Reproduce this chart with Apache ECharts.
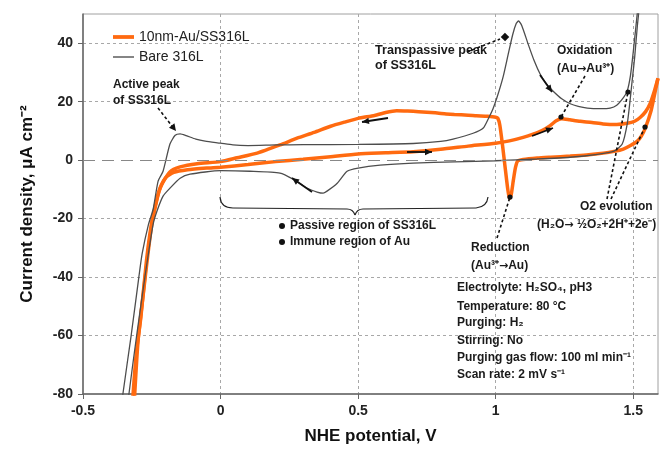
<!DOCTYPE html>
<html><head><meta charset="utf-8">
<script src="https://cdn.jsdelivr.net/npm/echarts@6/dist/echarts.min.js"></script>
<style>html,body{margin:0;padding:0;background:#fff}#c{width:661px;height:452px}</style>
</head><body><div id="c"></div>
<script>
// ---- data (NHE potential V, current density uA cm-2) ----
const seriesNames = ['10nm-Au/SS316L', 'Bare 316L'];
const auForward = [[-0.32,-85],[-0.318,-80],[-0.305,-65],[-0.29,-54],[-0.27,-35],[-0.255,-24],[-0.243,-18],[-0.225,-11],[-0.2,-6],[-0.17,-4.2],[-0.12,-3.3],[-0.05,-2.7],[0,-2.4],[0.1,-1.5],[0.2,-0.5],[0.3,0.3],[0.4,1.2],[0.5,2.1],[0.6,2.5],[0.7,2.9],[0.8,3.7],[0.9,4.8],[1.0,5.8],[1.05,6.6],[1.1,7.8],[1.136,8.9],[1.17,10.2],[1.198,11.8],[1.22,13.5],[1.24,14.2],[1.27,13.8],[1.307,13.3],[1.35,12.9],[1.39,12.4],[1.44,12.2],[1.478,12.6],[1.505,13.3],[1.525,14.6],[1.545,16.6],[1.562,19.5],[1.578,24],[1.59,28]];
const auReverse = [[1.59,28],[1.58,23.6],[1.565,17],[1.544,11],[1.53,8.3],[1.515,6.5],[1.49,5],[1.464,3.8],[1.43,3],[1.391,2.4],[1.33,1.8],[1.271,1.4],[1.2,1],[1.151,0.7],[1.1,0.2],[1.08,-0.3],[1.072,-2.5],[1.064,-7],[1.056,-12],[1.05,-13.2],[1.044,-10],[1.035,-3],[1.025,5],[1.015,12],[1.008,14.3],[1.0,14.7],[0.97,15],[0.93,15.2],[0.9,15.4],[0.85,15.6],[0.82,15.8],[0.78,16.2],[0.72,16.6],[0.68,16.8],[0.64,16.9],[0.6,16.3],[0.56,15.3],[0.5,14.3],[0.45,13],[0.4,11.6],[0.34,9.5],[0.278,7.5],[0.216,5.2],[0.133,2.4],[0.06,0.8],[0,-0.5],[-0.085,-1.2],[-0.147,-2.3],[-0.184,-4],[-0.22,-9.6],[-0.25,-22],[-0.28,-45],[-0.3,-62],[-0.312,-80],[-0.314,-85]];
const bareForward = [[-0.36,-85],[-0.355,-80],[-0.325,-60],[-0.297,-40],[-0.285,-32],[-0.262,-22],[-0.245,-16.8],[-0.227,-7.2],[-0.209,-3.8],[-0.184,5.5],[-0.165,8.5],[-0.147,9],[-0.125,8.4],[-0.09,7.2],[-0.056,6.5],[0,5.8],[0.045,5.2],[0.1,5.0],[0.2,5.2],[0.3,5.3],[0.5,5.4],[0.7,5.7],[0.8,6.4],[0.845,7.2],[0.918,9.2],[0.955,11],[0.975,14.5],[0.99,17.5],[1.005,21.5],[1.027,28.5],[1.045,36],[1.062,43],[1.075,46.8],[1.083,47.6],[1.095,46],[1.118,39.7],[1.14,34],[1.162,29.4],[1.185,26],[1.209,23.6],[1.24,21],[1.271,19.3],[1.3,18.4],[1.333,17.8],[1.38,17.6],[1.416,17.8],[1.44,18.8],[1.465,21.5],[1.478,23.6],[1.49,29],[1.5,37],[1.51,46],[1.52,55]];
const bareReverse = [[1.525,55],[1.515,46],[1.505,35],[1.497,28],[1.488,20],[1.478,12.3],[1.46,5.5],[1.43,3.1],[1.37,2],[1.27,1],[1.15,0.4],[1.0,-0.2],[0.85,-0.6],[0.7,-1],[0.58,-1.7],[0.5,-2.7],[0.46,-3.8],[0.424,-7.9],[0.387,-10.6],[0.373,-11.3],[0.351,-10.9],[0.315,-9.6],[0.264,-6.5],[0.216,-4.4],[0.107,-3.8],[0,-3.6],[-0.111,-4.8],[-0.147,-6.2],[-0.184,-9.6],[-0.209,-12.3],[-0.231,-17.4],[-0.245,-21.9],[-0.275,-40],[-0.305,-60],[-0.333,-80],[-0.337,-85]];

const FONT = '"Liberation Sans", Arial, sans-serif';
const chart = echarts.init(document.getElementById('c'), null, {renderer: 'canvas'});

const richArrow = {a: {fontFamily: '"DejaVu Sans", sans-serif', fontSize: 11, fontWeight: 'bold', fill: '#1a1a1a'}};
function txt(x, y, text, size, weight, align) {
  return {type: 'text', x: x, y: y, z: 50, style: {text: text, fontSize: size || 12, fontWeight: weight || 'bold', fontFamily: FONT, fill: '#1a1a1a', verticalAlign: 'middle', align: align || 'left', rich: richArrow}};
}
function head(x1, y1, x2, y2, L, w) {
  const dx = x2 - x1, dy = y2 - y1, d = Math.hypot(dx, dy), ux = dx / d, uy = dy / d;
  const bx = x2 - ux * L, by = y2 - uy * L;
  return {type: 'polygon', z: 50, shape: {points: [[x2, y2], [bx - uy * w, by + ux * w], [bx + uy * w, by - ux * w]]}, style: {fill: '#111'}};
}
function dashLine(x1, y1, x2, y2) {
  return {type: 'line', z: 50, shape: {x1: x1, y1: y1, x2: x2, y2: y2}, style: {stroke: '#111', lineWidth: 1.6, lineDash: [3, 2.5]}};
}
function dot(x, y) {
  return {type: 'circle', z: 51, shape: {cx: x, cy: y, r: 2.6}, style: {fill: '#111'}};
}
function solidArrow(x1, y1, x2, y2) {
  return [{type: 'line', z: 50, shape: {x1: x1, y1: y1, x2: x2, y2: y2}, style: {stroke: '#111', lineWidth: 1.8}}, head(x1, y1, x2, y2, 7, 3.2)];
}
function qcurve(x1, y1, cx, cy, x2, y2) {
  return {type: 'bezierCurve', z: 50, shape: {x1: x1, y1: y1, x2: x2, y2: y2, cpx1: cx, cpy1: cy}, style: {stroke: '#222', lineWidth: 1.2, fill: null}};
}
function braceLine(x1, y1, x2, y2) {
  return {type: 'line', z: 50, shape: {x1: x1, y1: y1, x2: x2, y2: y2}, style: {stroke: '#222', lineWidth: 1.2}};
}

const graphics = [].concat(
  [txt(113, 85, 'Active peak'), txt(113, 101, 'of SS316L'),
   dashLine(158, 108, 172, 126), head(158, 108, 176, 131, 7, 3.5)],
  [txt(375, 51, 'Transpassive peak', 12.6), txt(375, 66, 'of SS316L', 12.6),
   dashLine(467, 52, 500, 39), {type: 'rect', z: 51, x: 505, y: 37, rotation: 0.8, shape: {x: -3, y: -3, width: 6, height: 6}, style: {fill: '#111'}}],
  [txt(557, 51, 'Oxidation'), txt(557, 69, '(Au{a|→}Au³⁺)'),
   dashLine(585, 76, 561, 117), dot(561, 117)],
  [txt(580, 207, 'O2 evolution'), txt(537, 225, '(H₂O{a|→} ½O₂+2H⁺+2e⁻)'),
   dashLine(607, 199, 628, 92), dot(628, 92), dashLine(611, 199, 645, 127), dot(645, 127)],
  [txt(471, 248, 'Reduction'), txt(471, 266, '(Au³⁺{a|→}Au)'),
   dashLine(497, 238, 510, 197), dot(510, 197)],
  [qcurve(220, 197, 221, 208, 233, 208), braceLine(233, 208, 347, 209), qcurve(347, 209, 353, 209, 355, 215),
   qcurve(355, 215, 357, 209, 363, 209), braceLine(363, 209, 476, 208), qcurve(476, 208, 487, 207, 488, 197)],
  [{type: 'circle', z: 51, shape: {cx: 282, cy: 226, r: 3}, style: {fill: '#111'}}, txt(290, 226, 'Passive region of SS316L'),
   {type: 'circle', z: 51, shape: {cx: 282, cy: 242, r: 3}, style: {fill: '#111'}}, txt(290, 242, 'Immune region of Au')],
  [txt(457, 288, 'Electrolyte: H₂SO₄, pH3'), txt(457, 307, 'Temperature: 80 °C'), txt(457, 323, 'Purging: H₂'),
   txt(457, 341, 'Stirring: No'), txt(457, 358, 'Purging gas flow: 100 ml min⁻¹'), txt(457, 375, 'Scan rate: 2 mV s⁻¹')],
  solidArrow(312, 192, 292, 178),
  solidArrow(388, 118, 362, 122),
  solidArrow(407, 152, 432, 152),
  solidArrow(532, 136, 553, 128),
  solidArrow(540, 75, 552, 92)
);

const orange = '#ff6a10', gray = '#4d4d4d';
const option = {
  animation: false,
  backgroundColor: '#fff',
  textStyle: {fontFamily: FONT},
  grid: {left: 83, right: 3, top: 14, bottom: 58, show: true, borderColor: '#a0a0a0', borderWidth: 1, backgroundColor: 'transparent'},
  legend: {
    data: [
      {name: seriesNames[0], icon: 'path://M0,0H20V3.6H0Z'},
      {name: seriesNames[1], icon: 'path://M0,0H20V1.3H0Z'}
    ],
    orient: 'vertical', left: 108, top: 25, itemWidth: 21, itemHeight: 14, itemGap: 6,
    textStyle: {fontSize: 14, color: '#222', fontFamily: FONT}, selectedMode: false
  },
  xAxis: {
    type: 'value', min: -0.5, max: 1.59, interval: 0.5,
    name: 'NHE potential, V', nameLocation: 'middle', nameGap: 34,
    nameTextStyle: {fontSize: 17, fontWeight: 'bold', color: '#111', fontFamily: FONT},
    axisLine: {onZero: false, lineStyle: {color: '#666', width: 1.5}},
    axisTick: {show: true, length: 5, lineStyle: {color: '#666'}},
    axisLabel: {fontSize: 14, fontWeight: 'bold', color: '#222', margin: 10, showMaxLabel: false, fontFamily: FONT},
    splitLine: {show: true, lineStyle: {type: [3, 3], width: 1, color: ['transparent', '#a8a8a8', '#a8a8a8', '#a8a8a8', '#a8a8a8', 'transparent']}}
  },
  yAxis: {
    type: 'value', min: -80, max: 50, interval: 20,
    name: 'Current density, μA cm⁻²', nameLocation: 'middle', nameGap: 47, nameRotate: 90,
    nameTextStyle: {fontSize: 17, fontWeight: 'bold', color: '#111', fontFamily: FONT},
    axisLine: {onZero: false, lineStyle: {color: '#666', width: 1.5}},
    axisTick: {show: true, length: 5, lineStyle: {color: '#666'}},
    axisLabel: {fontSize: 14, fontWeight: 'bold', color: '#222', margin: 10, showMaxLabel: false, fontFamily: FONT},
    splitLine: {show: true, lineStyle: {type: [3, 3], width: 1, color: ['transparent', '#a8a8a8', '#a8a8a8', '#a8a8a8', 'transparent', '#a8a8a8', '#a8a8a8', 'transparent']}}
  },
  series: [
    {name: seriesNames[0], type: 'line', data: auForward, symbol: 'none', smooth: 0.2, lineStyle: {color: orange, width: 3.5}, itemStyle: {color: orange}, z: 2,
     markLine: {silent: true, symbol: 'none', label: {show: false}, lineStyle: {color: '#888', type: [12, 7], width: 1}, data: [{yAxis: 0}]}},
    {name: seriesNames[0], type: 'line', data: auReverse, symbol: 'none', smooth: 0.2, lineStyle: {color: orange, width: 3.5}, itemStyle: {color: orange}, z: 2},
    {name: seriesNames[1], type: 'line', data: bareForward, symbol: 'none', smooth: 0.2, lineStyle: {color: gray, width: 1.3}, itemStyle: {color: gray}, z: 3},
    {name: seriesNames[1], type: 'line', data: bareReverse, symbol: 'none', smooth: 0.2, lineStyle: {color: gray, width: 1.3}, itemStyle: {color: gray}, z: 3}
  ],
  graphic: graphics
};
chart.setOption(option);
</script></body></html>
